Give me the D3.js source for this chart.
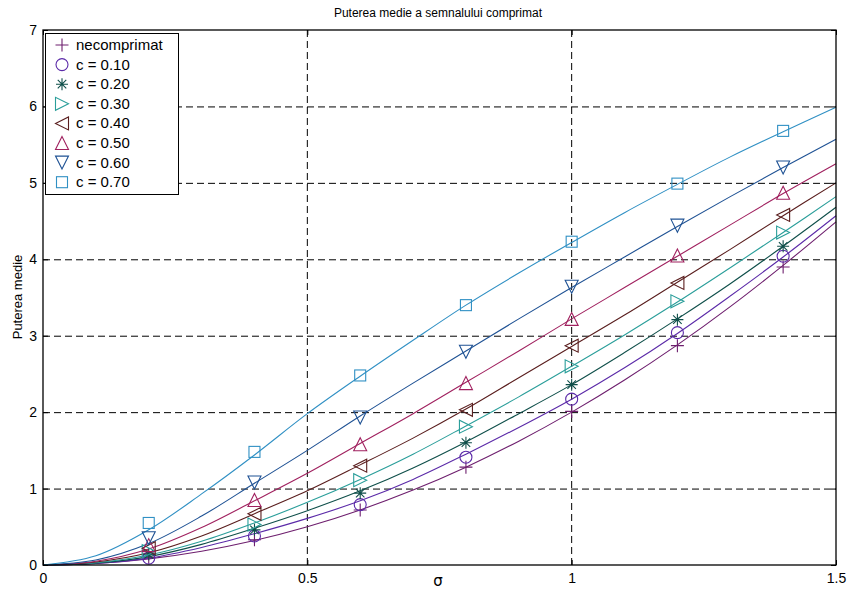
<!DOCTYPE html>
<html><head><meta charset="utf-8">
<script src="https://cdn.jsdelivr.net/npm/d3@7"></script>
<style>body{margin:0;background:#fff}svg{display:block}text{font-family:"Liberation Sans",Arial,sans-serif;fill:#000}</style>
</head><body>
<svg id="c" width="853" height="606"></svg>
<script>
const lineX = [0,0.1,0.2,0.3,0.4,0.5,0.6,0.7,0.8,0.9,1.0,1.1,1.2,1.3,1.4,1.5];
const markX = [0.2,0.4,0.6,0.8,1.0,1.2,1.4];
const labels = ["necomprimat","c = 0.10","c = 0.20","c = 0.30","c = 0.40","c = 0.50","c = 0.60","c = 0.70"];
const colors = ["#6e1f6e","#5b2aa8","#0f4f4a","#2a9e9a","#5a1e1e","#a0215f","#1f5294","#3090c4"];
const symbols = ["plus","circle","star","right","left","up","down","square"];
const line0 = [0,0.02,0.08,0.18,0.32,0.50,0.72,0.98,1.28,1.62,2.00,2.42,2.88,3.38,3.92,4.49];
const line1 = [0,0.02,0.09,0.23,0.41,0.61,0.84,1.12,1.45,1.80,2.17,2.58,3.03,3.52,4.03,4.57];
const line2 = [0,0.025,0.11,0.27,0.48,0.71,0.97,1.27,1.61,1.98,2.36,2.78,3.22,3.68,4.17,4.68];
const line3 = [0,0.03,0.13,0.31,0.55,0.82,1.12,1.45,1.82,2.20,2.60,3.01,3.44,3.89,4.35,4.82];
const line4 = [0,0.04,0.16,0.38,0.67,0.97,1.31,1.66,2.04,2.45,2.86,3.27,3.70,4.13,4.57,5.00];
const line5 = [0,0.05,0.21,0.49,0.84,1.20,1.59,1.98,2.39,2.80,3.22,3.63,4.04,4.45,4.86,5.25];
const line6 = [0,0.065,0.28,0.64,1.07,1.50,1.95,2.38,2.80,3.22,3.63,4.03,4.43,4.82,5.20,5.57];
const line7 = [0,0.12,0.46,0.93,1.44,1.98,2.47,2.94,3.40,3.82,4.22,4.61,4.98,5.34,5.67,5.99];
const mark0 = [0.10,0.33,0.72,1.28,2.01,2.87,3.90];
const mark1 = [0.09,0.38,0.79,1.41,2.17,3.04,4.04];
const mark2 = [0.14,0.46,0.94,1.60,2.36,3.21,4.17];
const mark3 = [0.18,0.53,1.11,1.81,2.60,3.45,4.35];
const mark4 = [0.22,0.67,1.30,2.03,2.87,3.69,4.58];
const mark5 = [0.26,0.85,1.58,2.38,3.22,4.05,4.87];
const mark6 = [0.35,1.08,1.93,2.79,3.64,4.44,5.20];
const mark7 = [0.55,1.48,2.48,3.40,4.23,4.99,5.68];
const lines = [line0,line1,line2,line3,line4,line5,line6,line7];
const marks = [mark0,mark1,mark2,mark3,mark4,mark5,mark6,mark7];
const xTicks = [0,0.5,1,1.5];
const yTicks = [0,1,2,3,4,5,6,7];

const svg = d3.select("#c");
const L=43,R=836,T=30,B=565;
const x = d3.scaleLinear().domain([0,1.5]).range([L,R]);
const y = d3.scaleLinear().domain([0,7]).range([B,T]);

// grid
const g = svg.append("g");
g.selectAll(".gx").data(xTicks.filter(d=>d>0&&d<1.5)).join("line")
  .attr("x1",d=>x(d)).attr("x2",d=>x(d)).attr("y1",T).attr("y2",B)
  .attr("stroke","#000").attr("stroke-dasharray","7,4").attr("stroke-width",1);
g.selectAll(".gy").data(yTicks.filter(d=>d>0&&d<7)).join("line")
  .attr("y1",d=>y(d)+0.5).attr("y2",d=>y(d)+0.5).attr("x1",L).attr("x2",R)
  .attr("stroke","#000").attr("stroke-dasharray","7,4").attr("stroke-width",1);

// lines
const lg = d3.line().x((d,i)=>x(lineX[i])).y(d=>y(d)).curve(d3.curveCatmullRom);
lines.forEach((ln,k)=>{
  svg.append("path").attr("d",lg(ln)).attr("fill","none").attr("stroke",colors[k]).attr("stroke-width",1.1);
});

function drawMarker(sel,type,cx,cy,col){
  const s=6.5;
  if(type==="plus"){
    sel.append("path").attr("d",`M${cx-s},${cy}H${cx+s}M${cx},${cy-s}V${cy+s}`).attr("stroke",col).attr("fill","none").attr("stroke-width",1.1);
  } else if(type==="circle"){
    sel.append("circle").attr("cx",cx).attr("cy",cy).attr("r",6).attr("stroke",col).attr("fill","none").attr("stroke-width",1.1);
  } else if(type==="star"){
    const r=6,a=r*0.71;
    sel.append("path").attr("d",`M${cx-r},${cy}H${cx+r}M${cx},${cy-r}V${cy+r}M${cx-a},${cy-a}L${cx+a},${cy+a}M${cx-a},${cy+a}L${cx+a},${cy-a}`).attr("stroke",col).attr("fill","none").attr("stroke-width",1.1);
  } else if(type==="square"){
    sel.append("rect").attr("x",cx-5.5).attr("y",cy-5.5).attr("width",11).attr("height",11).attr("stroke",col).attr("fill","none").attr("stroke-width",1.1);
  } else {
    const h=6.5;
    let pts;
    if(type==="up") pts=[[cx,cy-h],[cx+h,cy+h],[cx-h,cy+h]];
    if(type==="down") pts=[[cx,cy+h],[cx+h,cy-h],[cx-h,cy-h]];
    if(type==="right") pts=[[cx+h,cy],[cx-h,cy-h],[cx-h,cy+h]];
    if(type==="left") pts=[[cx-h,cy],[cx+h,cy-h],[cx+h,cy+h]];
    sel.append("path").attr("d","M"+pts.map(p=>p.join(",")).join("L")+"Z").attr("stroke",col).attr("fill","none").attr("stroke-width",1.1);
  }
}
const mg = svg.append("g");
marks.forEach((m,k)=>{
  m.forEach((v,i)=>drawMarker(mg,symbols[k],x(markX[i]),y(v),colors[k]));
});

// box
svg.append("rect").attr("x",L).attr("y",T).attr("width",R-L).attr("height",B-T).attr("fill","none").attr("stroke","#000").attr("stroke-width",1.3);

// axes
svg.append("g").attr("transform",`translate(0,${B})`)
  .call(d3.axisBottom(x).tickValues(xTicks).tickSize(-5).tickPadding(8).tickFormat(d=>d3.format("")(d)));
svg.append("g").attr("transform",`translate(${L},0)`)
  .call(d3.axisLeft(y).tickValues(yTicks).tickSize(-5).tickPadding(6).tickFormat(d3.format("d")));
svg.append("g").attr("transform",`translate(0,${T})`).call(d3.axisTop(x).tickValues(xTicks).tickSize(-5).tickFormat(""));
svg.append("g").attr("transform",`translate(${R},0)`).call(d3.axisRight(y).tickValues(yTicks).tickSize(-5).tickFormat(""));
svg.selectAll(".domain").remove();
svg.selectAll(".tick text").style("font-size","14px").style("font-family","'Liberation Sans',Arial,sans-serif");
svg.selectAll(".tick line").attr("stroke","#000");

// labels
svg.append("text").attr("x",438).attr("y",17).attr("text-anchor","middle").style("font-size","12px").text("Puterea medie a semnalului comprimat");
svg.append("text").attr("x",438).attr("y",586).attr("text-anchor","middle").style("font-size","15px").style("font-family","'DejaVu Sans',sans-serif").text("σ");
svg.append("text").attr("transform","translate(22,297) rotate(-90)").attr("text-anchor","middle").style("font-size","13px").text("Puterea medie");

// legend
const leg = svg.append("g");
leg.append("rect").attr("x",45.5).attr("y",33.5).attr("width",133).attr("height",161).attr("fill","#fff").attr("stroke","#000").attr("stroke-width",1);
labels.forEach((lab,k)=>{
  const cy = 45 + k*19.6;
  drawMarker(leg,symbols[k],62,cy,colors[k]);
  leg.append("text").attr("x",76).attr("y",cy+5).style("font-size","15px").text(lab);
});
</script>
</body></html>
